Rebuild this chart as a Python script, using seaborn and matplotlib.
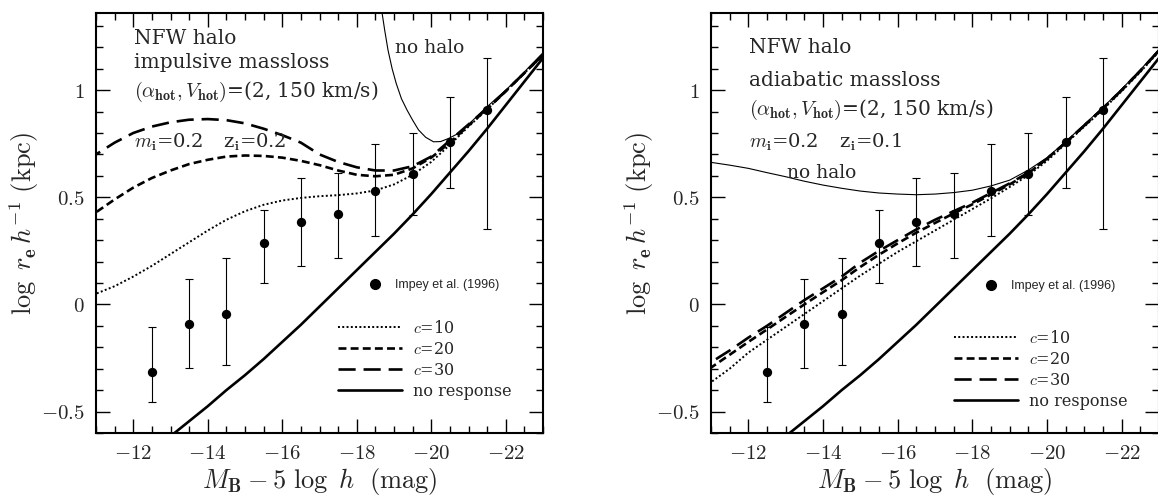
import numpy as np
import pandas as pd
import matplotlib.pyplot as plt
from matplotlib.lines import Line2D
from matplotlib.ticker import MultipleLocator, FuncFormatter
import seaborn as sns

# Impey et al. (1996) points (same in both panels)
mag_obs = [-12.5, -13.5, -14.5, -15.5, -16.5, -17.5, -18.5, -19.5, -20.5, -21.5]
logr_obs = [-0.314, -0.089, -0.045, 0.288, 0.386, 0.423, 0.529, 0.607, 0.757, 0.907]
logr_hi = [-0.107, 0.117, 0.215, 0.443, 0.591, 0.614, 0.751, 0.802, 0.969, 1.148]
logr_lo = [-0.457, -0.295, -0.283, 0.101, 0.179, 0.219, 0.319, 0.417, 0.544, 0.350]

# model curves sampled every 0.5 mag
mag_grid = [-11.0, -11.5, -12.0, -12.5, -13.0, -13.5, -14.0, -14.5, -15.0, -15.5,
            -16.0, -16.5, -17.0, -17.5, -18.0, -18.5, -19.0, -19.5, -20.0, -20.5,
            -21.0, -21.5, -22.0, -22.5, -23.0]

# left: impulsive mass loss
imp_c10 = [0.05, 0.085, 0.13, 0.18, 0.235, 0.29, 0.345, 0.395, 0.435, 0.465,
           0.485, 0.497, 0.505, 0.51, 0.518, 0.532, 0.56, 0.605, 0.665, 0.745,
           0.83, 0.91, 0.995, 1.08, 1.16]
imp_c20 = [0.43, 0.49, 0.545, 0.59, 0.625, 0.655, 0.675, 0.69, 0.695, 0.693,
           0.685, 0.67, 0.65, 0.625, 0.605, 0.598, 0.605, 0.635, 0.685, 0.755,
           0.835, 0.912, 0.995, 1.08, 1.165]
imp_c30 = [0.70, 0.755, 0.80, 0.83, 0.85, 0.862, 0.865, 0.86, 0.845, 0.82,
           0.79, 0.755, 0.70, 0.665, 0.64, 0.625, 0.625, 0.645, 0.69, 0.765,
           0.84, 0.915, 0.995, 1.08, 1.165]
imp_nohalo_mag = [-18.6, -18.68, -18.75, -18.84, -18.95, -19.06, -19.2, -19.35, -19.5,
                  -19.66, -19.85, -20.06, -20.25, -20.47, -20.75, -21.0, -21.45,
                  -22.0, -22.5, -23.0]
imp_nohalo = [1.46, 1.36, 1.28, 1.186, 1.10, 1.031, 0.96, 0.907, 0.86,
              0.814, 0.78, 0.759, 0.76, 0.775, 0.80, 0.84, 0.915,
              1.0, 1.085, 1.175]

# right: adiabatic mass loss
adi_c10 = [-0.363, -0.30, -0.225, -0.165, -0.105, -0.045, 0.015, 0.075, 0.135, 0.19,
           0.245, 0.295, 0.345, 0.395, 0.445, 0.495, 0.548, 0.603, 0.67, 0.75,
           0.83, 0.91, 0.995, 1.085, 1.18]
adi_c20 = [-0.295, -0.235, -0.175, -0.117, -0.058, 0.0, 0.057, 0.113, 0.175, 0.232,
           0.285, 0.335, 0.38, 0.425, 0.467, 0.513, 0.56, 0.612, 0.68, 0.755,
           0.835, 0.915, 1.0, 1.09, 1.185]
adi_c30 = [-0.27, -0.215, -0.155, -0.10, -0.04, 0.02, 0.075, 0.13, 0.195, 0.25,
           0.30, 0.35, 0.395, 0.435, 0.475, 0.52, 0.565, 0.615, 0.68, 0.755,
           0.835, 0.915, 1.0, 1.09, 1.185]
adi_nohalo = [0.663, 0.65, 0.635, 0.615, 0.596, 0.575, 0.557, 0.542, 0.529, 0.52,
              0.515, 0.512, 0.515, 0.522, 0.533, 0.553, 0.58, 0.627, 0.685, 0.76,
              0.84, 0.92, 1.005, 1.095, 1.19]

# no response (both panels)
mag_nr = [-13.0, -13.5, -14.0, -14.5, -15.0, -15.5, -16.0, -16.5, -17.0, -17.5,
          -18.0, -18.5, -19.0, -19.5, -20.0, -20.5, -21.0, -21.5, -22.0, -22.5, -23.0]
noresp = [-0.615, -0.545, -0.475, -0.40, -0.33, -0.255, -0.175, -0.095, -0.01, 0.075,
          0.16, 0.245, 0.33, 0.42, 0.515, 0.615, 0.715, 0.82, 0.93, 1.04, 1.15]

sns.set_style("ticks")
plt.rcParams["font.family"] = ["DejaVu Serif"]
plt.rcParams["mathtext.fontset"] = "cm"

models = ["c10", "c20", "c30", "noresp", "nohalo"]
dashes = {"c10": (1, 1.2), "c20": (3, 1.6), "c30": (6.5, 3), "noresp": "", "nohalo": ""}
widths = {"c10": 1.4, "c20": 1.9, "c30": 1.9, "noresp": 1.9, "nohalo": 0.8}
palette = {m: "k" for m in models}


def long_df(c10, c20, c30, nh_mag, nh):
    parts = [
        pd.DataFrame(dict(mag=mag_grid, logr=c10, model="c10")),
        pd.DataFrame(dict(mag=mag_grid, logr=c20, model="c20")),
        pd.DataFrame(dict(mag=mag_grid, logr=c30, model="c30")),
        pd.DataFrame(dict(mag=mag_nr, logr=noresp, model="noresp")),
        pd.DataFrame(dict(mag=nh_mag, logr=nh, model="nohalo")),
    ]
    return pd.concat(parts, ignore_index=True)


panels = [
    dict(df=long_df(imp_c10, imp_c20, imp_c30, imp_nohalo_mag, imp_nohalo),
         lines=["NFW halo", "impulsive massloss",
                r"$(\alpha_{\mathbf{hot}}, V_{\mathbf{hot}})$=(2, 150 km/s)"],
         ys=[0.940, 0.881, 0.812], zi="0.2", nohalo_xy=(0.669, 0.917),
         leg_y=0.174, imp_y=0.352),
    dict(df=long_df(adi_c10, adi_c20, adi_c30, mag_grid, adi_nohalo),
         lines=["NFW halo", "adiabatic massloss",
                r"$(\alpha_{\mathbf{hot}}, V_{\mathbf{hot}})$=(2, 150 km/s)"],
         ys=[0.917, 0.840, 0.769], zi="0.1", nohalo_xy=(0.170, 0.619),
         leg_y=0.150, imp_y=0.350),
]

fig = plt.figure(figsize=(11.58, 5.03), dpi=100)
ax1 = fig.add_axes([96 / 1158, 70 / 503, 447 / 1158, 420 / 503])
ax2 = fig.add_axes([711 / 1158, 70 / 503, 448 / 1158, 420 / 503])

fmt = FuncFormatter(lambda v, p: "$%g$" % (round(v, 2) + 0.0))

for ax, p in zip([ax1, ax2], panels):
    sns.lineplot(data=p["df"], x="mag", y="logr", hue="model", style="model",
                 size="model", palette=palette, dashes=dashes, sizes=widths,
                 estimator=None, legend=False, ax=ax)
    ax.errorbar(mag_obs, logr_obs,
                yerr=[np.subtract(logr_obs, logr_lo), np.subtract(logr_hi, logr_obs)],
                fmt="none", ecolor="k", elinewidth=0.8, capsize=3, capthick=0.8)
    sns.scatterplot(x=mag_obs, y=logr_obs, color="k", s=45, edgecolor="k",
                    linewidth=0, ax=ax, zorder=5)

    ax.set_xlim(-11, -23)
    ax.set_ylim(-0.6, 1.36)
    ax.xaxis.set_major_locator(MultipleLocator(2))
    ax.xaxis.set_minor_locator(MultipleLocator(0.5))
    ax.yaxis.set_major_locator(MultipleLocator(0.5))
    ax.yaxis.set_minor_locator(MultipleLocator(0.1))
    ax.xaxis.set_major_formatter(fmt)
    ax.yaxis.set_major_formatter(fmt)
    ax.tick_params(which="both", direction="in", top=True, right=True,
                   color="k", width=1.0, labelsize=15)
    ax.tick_params(which="major", length=10, pad=8)
    ax.tick_params(which="minor", length=5)
    for s in ax.spines.values():
        s.set_linewidth(1.5)
        s.set_color("k")

    ax.set_xlabel(r"$M_{\mathbf{B}} - 5\ \log\ h\ \ (\mathrm{mag})$", fontsize=19, labelpad=2)
    ax.set_ylabel(r"$\log\ r_{\mathbf{e}}\,h^{-1}\ (\mathrm{kpc})$", fontsize=19, labelpad=0)

    for txt, yy in zip(p["lines"], p["ys"]):
        ax.text(0.085, yy, txt, transform=ax.transAxes, fontsize=14.5, va="center")
    ax.text(0.085, 0.693, r"$m_{\mathbf{i}}$=0.2", transform=ax.transAxes,
            fontsize=14, va="center")
    ax.text(0.285, 0.693, r"z$_{\mathbf{i}}$=" + p["zi"], transform=ax.transAxes,
            fontsize=14, va="center")
    ax.text(*p["nohalo_xy"], "no halo", transform=ax.transAxes, fontsize=13.5,
            va="center")

    handles = [
        Line2D([], [], color="k", lw=widths[m], dashes=dashes[m] if dashes[m] else (None, None))
        for m in ["c10", "c20", "c30", "noresp"]
    ]
    leg = ax.legend(handles, [r"$c$=10", r"$c$=20", r"$c$=30", "no response"],
                    loc="center left", bbox_to_anchor=(0.542, p["leg_y"]),
                    frameon=False, fontsize=11.5, handlelength=4.0,
                    handletextpad=0.7, labelspacing=0.25, borderpad=0,
                    borderaxespad=0)
    ax.add_artist(leg)
    dot = Line2D([], [], color="k", marker="o", ls="none", ms=7)
    ax.legend([dot], ["Impey et al. (1996)"], loc="center left",
              bbox_to_anchor=(0.610, p["imp_y"]), frameon=False,
              prop=dict(family="Liberation Sans", size=9), handlelength=1.0,
              handletextpad=1.1, borderpad=0, borderaxespad=0)

fig.savefig("out.png", dpi=100)
